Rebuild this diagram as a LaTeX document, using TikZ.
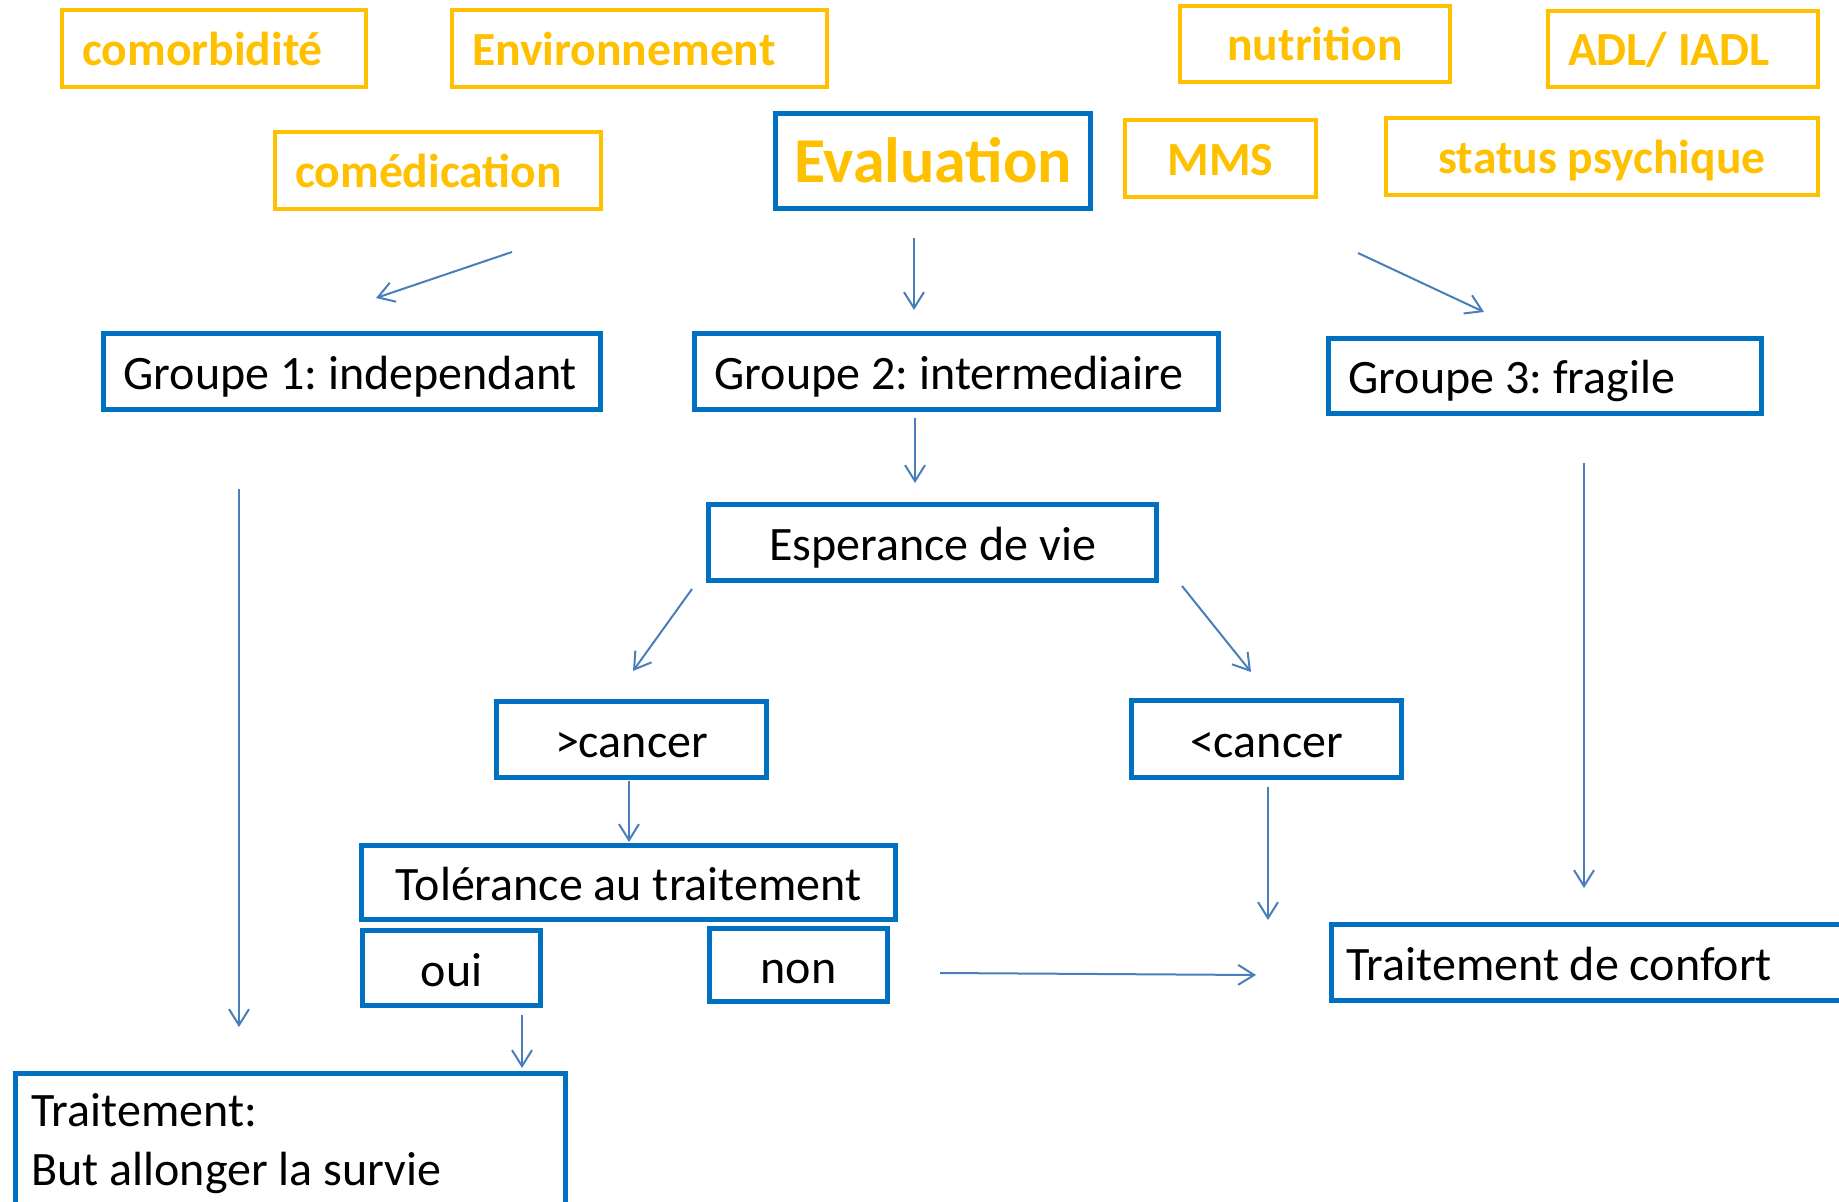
\documentclass[tikz,border=0pt]{standalone}
\usepackage{fontspec}
\setmainfont{Carlito}
\usetikzlibrary{arrows.meta}
\frenchspacing
\definecolor{orangeC}{HTML}{FFC000}
\definecolor{blueC}{HTML}{0070C0}
\definecolor{arrowC}{HTML}{4A7EBB}
\tikzset{
  obox/.style={draw=orangeC, line width=2pt, text=orangeC, font=\bfseries\fontsize{23.8}{28}\selectfont, inner sep=0pt, text height=21.5pt, text depth=4.5pt},
  bbox/.style={draw=blueC, line width=2.5pt, text=black, font=\fontsize{24}{29.5}\selectfont, inner sep=0pt},
  line1/.style={text height=22.5pt, text depth=4.5pt},
  lft/.style={align=flush left, inner xsep=10pt},
  conn/.style={draw=arrowC, line width=1pt, -{Straight Barb[length=8pt,width=10pt]}}
}
\begin{document}
\begin{tikzpicture}[x=0.5pt,y=-0.5pt]
\useasboundingbox (0,0) rectangle (1839,1202);
% orange boxes
\node[obox, lft, text width=132pt, minimum height=38.5pt] (como) at (214,48.5) {\mbox{comorbidité}};
\node[obox, lft, text width=167.5pt, minimum height=38.5pt] (env) at (639.5,48.5) {\mbox{Environnement}};
\node[obox, lft, text width=143pt, minimum height=38.5pt] (comed) at (438,170.5) {\mbox{comédication}};
\node[obox, minimum width=135pt, minimum height=38pt] (nutri) at (1315,44) {nutrition};
\node[obox, lft, text width=115pt, minimum height=38pt] (adl) at (1683,49) {\mbox{ADL/ IADL}};
\node[obox, minimum width=95.5pt, minimum height=38.5pt] (mms) at (1220.5,158.5) {MMS};
\node[obox, minimum width=216pt, minimum height=38.5pt] (status) at (1602,156.5) {status psychique};
% blue boxes
\node[bbox, font=\bfseries\fontsize{32}{37}\selectfont, text=orangeC, text height=27pt, text depth=5pt, minimum width=157.5pt, minimum height=47.5pt] (eval) at (933,161) {Evaluation};
\node[bbox, line1, lft, text width=228.5pt, minimum height=38pt] (g1) at (352,371.5) {\mbox{Groupe 1: independant}};
\node[bbox, line1, lft, text width=242pt, minimum height=38pt] (g2) at (956.5,371.5) {\mbox{Groupe 2: intermediaire}};
\node[bbox, line1, lft, text width=196.5pt, minimum height=37.5pt] (g3) at (1545,376) {\mbox{Groupe 3: fragile}};
\node[bbox, line1, minimum width=224pt, minimum height=38pt] (esp) at (932.5,542.5) {Esperance de vie};
\node[bbox, line1, minimum width=135pt, minimum height=38pt] (gtc) at (631.5,739.5) {>cancer};
\node[bbox, line1, minimum width=135pt, minimum height=38.5pt] (ltc) at (1266.5,739) {<cancer};
\node[bbox, line1, minimum width=267pt, minimum height=37pt] (tol) at (628.5,882.5) {Tolérance au traitement};
\node[bbox, line1, minimum width=89pt, minimum height=37.5pt] (oui) at (451.5,968) {oui};
\node[bbox, line1, minimum width=89pt, minimum height=36.5pt] (non) at (798.5,965) {non};
\node[bbox, line1, lft, inner xsep=7.7pt, anchor=west, text width=284.6pt, minimum height=38pt] (conf) at (1328.5,962.5) {\mbox{Traitement de confort}};
\node[bbox, lft, inner xsep=8.2pt, anchor=north west, text width=258.6pt, inner ysep=10pt] (trait) at (12.5,1070.5) {Traitement:\\But allonger la survie};
% connector coordinates
\coordinate (a1s) at (512,252);  \coordinate (a1e) at (376,298);
\coordinate (a2s) at (914,238);  \coordinate (a2e) at (914,310);
\coordinate (a3s) at (1358,253); \coordinate (a3e) at (1484,312);
\coordinate (a4s) at (239,489);  \coordinate (a4e) at (239,1027);
\coordinate (a5s) at (915,418);  \coordinate (a5e) at (915,483);
\coordinate (a6s) at (692,589);  \coordinate (a6e) at (633,671);
\coordinate (a7s) at (1182,586); \coordinate (a7e) at (1251,672);
\coordinate (a8s) at (629,781);  \coordinate (a8e) at (629,842);
\coordinate (a9s) at (1268,787); \coordinate (a9e) at (1268,920);
\coordinate (a10s) at (1584,463); \coordinate (a10e) at (1584,888);
\coordinate (a11s) at (940,973); \coordinate (a11e) at (1256,975);
\coordinate (a12s) at (522,1015); \coordinate (a12e) at (522,1068);
\draw[conn] (a1s) -- (a1e);
\draw[conn] (a2s) -- (a2e);
\draw[conn] (a3s) -- (a3e);
\draw[conn] (a4s) -- (a4e);
\draw[conn] (a5s) -- (a5e);
\draw[conn] (a6s) -- (a6e);
\draw[conn] (a7s) -- (a7e);
\draw[conn] (a8s) -- (a8e);
\draw[conn] (a9s) -- (a9e);
\draw[conn] (a10s) -- (a10e);
\draw[conn] (a11s) -- (a11e);
\draw[conn] (a12s) -- (a12e);
\end{tikzpicture}
\end{document}
